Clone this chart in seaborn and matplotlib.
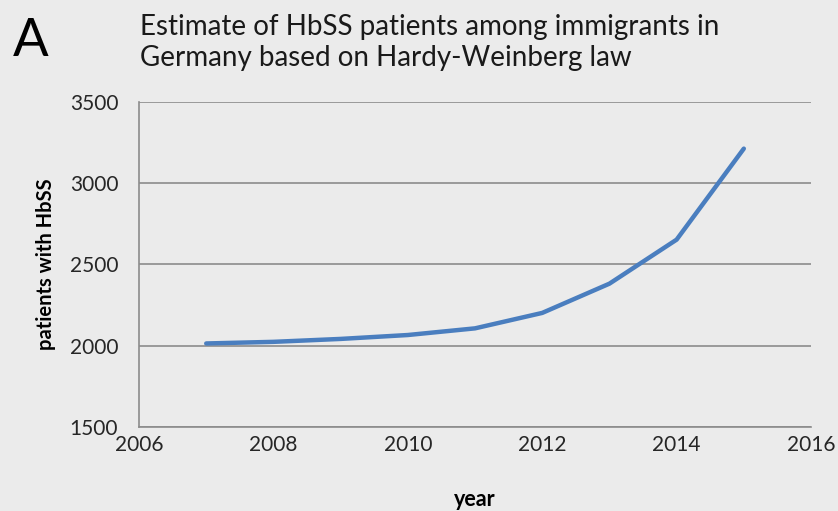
import matplotlib
matplotlib.use("Agg")
import matplotlib.pyplot as plt
import seaborn as sns
import pandas as pd

# Estimated HbSS patients per year
years = [2007, 2008, 2009, 2010, 2011, 2012, 2013, 2014, 2015]
patients = [2014, 2024, 2042, 2066, 2107, 2202, 2382, 2653, 3213]

x_ticks = [2006, 2008, 2010, 2012, 2014, 2016]
y_ticks = [1500, 2000, 2500, 3000, 3500]

title = "Estimate of HbSS patients among immigrants in\nGermany based on Hardy-Weinberg law"
panel_label = "A"
x_label = "year"
y_label = "patients with HbSS"

df = pd.DataFrame({"year": years, "patients": patients})

sns.set_theme(style="white")
plt.rcParams["font.family"] = ["Lato", "DejaVu Sans"]

bg = "#EBEBEB"
grid_col = "#8C8C8C"
line_col = "#4A7EBF"

fig = plt.figure(figsize=(8.38, 5.11), dpi=100, facecolor=bg)
ax = fig.add_axes([0.1659, 0.1644, 0.9678 - 0.1659, 0.8004 - 0.1644])
ax.set_facecolor(bg)

sns.lineplot(data=df, x="year", y="patients", ax=ax, color=line_col,
             linewidth=3.2, solid_capstyle="round", zorder=3)

ax.set_xlim(2006, 2016)
ax.set_ylim(1500, 3500)
ax.set_xticks(x_ticks)
ax.set_yticks(y_ticks)
ax.set_xticklabels([str(t) for t in x_ticks], fontsize=15, color="#262626")
ax.set_yticklabels([str(t) for t in y_ticks], fontsize=15, color="#262626")

for y in y_ticks:
    ax.axhline(y, color=grid_col, linewidth=1.2, zorder=1)

for side in ("top", "right"):
    ax.spines[side].set_visible(False)
for side in ("left", "bottom"):
    ax.spines[side].set_color(grid_col)
    ax.spines[side].set_linewidth(1.2)

ax.tick_params(axis="both", which="major", direction="out", length=5,
               width=1.0, color=grid_col)
ax.tick_params(axis="y", pad=10)
ax.tick_params(axis="x", pad=1)

ax.set_xlabel(x_label, fontsize=15.5, fontweight="bold", color="black", labelpad=24)
ax.set_ylabel(y_label, fontsize=14.5, fontweight="bold", color="black", labelpad=10)

fig.text(0.167, 0.972, title, fontsize=20, color="#1a1a1a", va="top", ha="left",
         linespacing=1.2)
fig.text(0.015, 0.965, panel_label, fontsize=38, color="black", va="top", ha="left")

fig.savefig("out.png", dpi=100, facecolor=bg)
